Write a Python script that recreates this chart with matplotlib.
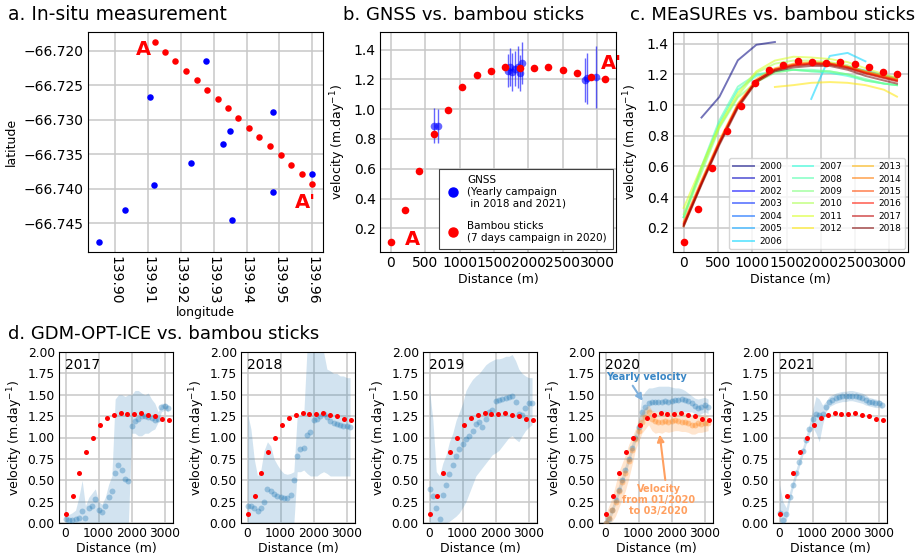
import matplotlib
matplotlib.use('Agg')
import matplotlib.pyplot as plt
from matplotlib.lines import Line2D
from matplotlib.ticker import FuncFormatter
import numpy as np

plt.rcParams['font.family'] = ['DejaVu Sans']

# ---------------- data ----------------
# panel a: positions
bam_lon = [139.9121, 139.9151, 139.9182, 139.9216, 139.9248, 139.9279, 139.9312, 139.9343,
           139.9375, 139.9407, 139.9439, 139.9472, 139.9504, 139.9536, 139.9568, 139.9599]
bam_lat = [-66.7187, -66.7201, -66.7214, -66.7229, -66.7242, -66.7256, -66.7270, -66.7283,
           -66.7297, -66.7311, -66.7325, -66.7338, -66.7351, -66.7365, -66.7379, -66.7393]
gnss_lon = [139.8950, 139.9031, 139.9106, 139.9117, 139.9231, 139.9275, 139.9329, 139.9349,
            139.9355, 139.9480, 139.9481, 139.9600]
gnss_lat = [-66.7477, -66.7431, -66.7267, -66.7395, -66.7363, -66.7214, -66.7335, -66.7316,
            -66.7445, -66.7289, -66.7404, -66.7378]
lon_ticks = [139.90, 139.91, 139.92, 139.93, 139.94, 139.95, 139.96]
lat_ticks = [-66.745, -66.740, -66.735, -66.730, -66.725, -66.720]

# bambou sticks velocity along profile
bam_d = [0, 210, 415, 625, 830, 1040, 1250, 1455, 1665, 1870, 2080, 2285, 2495, 2700, 2910, 3115]
bam_v = [0.108, 0.321, 0.587, 0.832, 0.993, 1.147, 1.228, 1.259, 1.286, 1.279, 1.277, 1.282,
         1.266, 1.246, 1.215, 1.203]

# GNSS
gnss_d = [629, 687, 1704, 1738, 1767, 1801, 1849, 1878, 1912, 2822, 2851, 2986]
gnss_v = [0.890, 0.886, 1.259, 1.284, 1.250, 1.273, 1.284, 1.244, 1.311, 1.195, 1.206, 1.217]
gnss_err = [0.12, 0.115, 0.11, 0.13, 0.13, 0.12, 0.14, 0.12, 0.14, 0.15, 0.17, 0.21]

# panel c: MEaSUREs
meas_d = [0, 260, 520, 790, 1060, 1330, 1600, 1860, 2130, 2390, 2650, 2920, 3110]
N = None
meas_years = list(range(2000, 2019))
meas_v = {
    2000: [N, 0.919, 1.053, 1.292, 1.393, 1.411, N, N, N, N, N, N, N],
    2001: [N] * 13,
    2002: [N] * 13,
    2003: [N] * 13,
    2004: [N, N, N, N, N, N, N, N, N, 1.245, 1.22, 1.19, 1.17],
    2005: [N, N, N, N, N, N, N, 1.27, 1.27, 1.25, 1.225, 1.195, 1.175],
    2006: [N, N, N, N, N, N, N, 1.04, 1.32, 1.34, 1.285, N, N],
    2007: [0.27, 0.59, 0.88, 1.10, 1.19, 1.22, 1.23, 1.22, 1.21, 1.19, 1.16, 1.14, 1.13],
    2008: [0.27, 0.60, 0.90, 1.12, 1.20, 1.22, 1.23, 1.23, 1.22, 1.20, 1.17, 1.14, 1.13],
    2009: [0.27, 0.56, 0.85, 1.05, 1.15, 1.21, 1.23, 1.22, 1.22, 1.20, 1.16, 1.14, 1.13],
    2010: [0.29, 0.58, 0.86, 1.06, 1.21, 1.27, 1.29, 1.29, 1.28, 1.26, 1.22, 1.19, 1.17],
    2011: [0.33, 0.60, 0.87, 1.08, 1.22, 1.29, 1.315, 1.31, 1.30, 1.28, 1.24, 1.20, 1.18],
    2012: [N, N, N, N, N, 1.118, 1.13, 1.145, 1.15, 1.145, 1.13, 1.10, 1.055],
    2013: [0.24, 0.51, 0.77, 1.01, 1.17, 1.24, 1.27, 1.28, 1.275, 1.25, 1.22, 1.19, 1.17],
    2014: [0.21, 0.49, 0.75, 0.99, 1.15, 1.225, 1.26, 1.27, 1.265, 1.245, 1.21, 1.18, 1.16],
    2015: [0.22, 0.49, 0.76, 1.00, 1.16, 1.235, 1.265, 1.275, 1.27, 1.25, 1.215, 1.185, 1.165],
    2016: [0.23, 0.50, 0.76, 1.00, 1.16, 1.23, 1.26, 1.27, 1.27, 1.245, 1.21, 1.18, 1.16],
    2017: [0.22, 0.49, 0.75, 0.99, 1.16, 1.23, 1.255, 1.265, 1.263, 1.24, 1.205, 1.175, 1.155],
    2018: [0.21, 0.48, 0.74, 0.98, 1.15, 1.22, 1.245, 1.255, 1.255, 1.23, 1.19, 1.16, 1.14],
}

# panel d: GDM-OPT-ICE
gdm_d = [0, 100, 200, 300, 400, 500, 600, 700, 800, 900, 1000, 1100, 1200, 1300, 1400, 1500,
         1600, 1700, 1800, 1900, 2000, 2100, 2200, 2300, 2400, 2500, 2600, 2700, 2800, 2900,
         3000, 3100]
gdm_v = {
    2017: [0.05, 0.04, 0.04, 0.05, 0.06, 0.14, 0.06, 0.17, 0.20, 0.28, 0.15, 0.13, 0.20, 0.30,
           0.38, 0.58, 0.68, 0.62, 0.52, 0.49, 1.13, 1.19, 1.22, 1.25, 1.25, 1.24, 1.23, 1.21,
           1.22, 1.36, 1.37, 1.35],
    2018: [0.20, 0.20, 0.18, 0.14, 0.17, 0.25, 0.40, 0.37, 0.34, 0.32, 0.30, 0.29, 0.29, 0.33,
           0.50, 0.78, 0.87, 0.88, 1.03, 1.07, 1.21, 1.22, 1.25, 1.28, 1.24, 1.19, 1.17, 1.16,
           1.15, 1.14, 1.13, 1.12],
    2019: [0.40, 0.32, 0.18, 0.05, 0.33, 0.45, 0.57, 0.68, 0.78, 0.87, 0.92, 0.98, 1.02, 1.08,
           1.16, 1.18, 1.12, 1.22, 1.30, 1.32, 1.43, 1.44, 1.45, 1.46, 1.47, 1.49, 1.42, 1.28,
           1.26, 1.35, 1.40, 1.40],
    2020: [0.00, 0.05, 0.15, 0.27, 0.39, 0.50, 0.62, 0.75, 0.88, 1.00, 1.12, 1.30, 1.36, 1.40,
           1.42, 1.42, 1.42, 1.42, 1.43, 1.42, 1.43, 1.44, 1.44, 1.45, 1.44, 1.43, 1.40, 1.37,
           1.35, 1.36, 1.38, 1.36],
    2021: [0.12, 0.04, 0.10, 0.30, 0.45, 0.58, 0.71, 0.84, 0.97, 1.10, 1.22, 1.27, 1.26, 1.28,
           1.36, 1.42, 1.44, 1.46, 1.47, 1.48, 1.48, 1.49, 1.49, 1.48, 1.47, 1.46, 1.44, 1.42,
           1.41, 1.40, 1.40, 1.38],
}
gdm_lo = {
    2017: [0.0] * 20 + [1.05, 1.05, 1.02, 1.02, 1.05, 1.05, 1.08, 1.10, 1.18, 1.30, 1.32, 1.30],
    2018: [0.0] * 15 + [0.60, 0.60, 0.62, 0.58, 0.55, 0.55, 0.55, 0.58, 0.60, 0.58, 0.55, 0.55,
                        0.55, 0.55, 0.55, 0.55, 0.55],
    2019: [0.0, 0.0, 0.0, 0.0, 0.0, 0.0, 0.02, 0.05, 0.08, 0.12, 0.18, 0.25, 0.35, 0.45, 0.55,
           0.60, 0.65, 0.70, 0.75, 0.80, 0.82, 0.85, 0.90, 0.95, 1.00, 1.02, 0.98, 0.95, 1.02,
           1.08, 1.12, 1.15],
    2020: [0.0, 0.0, 0.10, 0.22, 0.33, 0.44, 0.56, 0.70, 0.82, 0.94, 1.04, 1.15, 1.25, 1.30,
           1.30, 1.30, 1.30, 1.30, 1.30, 1.30, 1.30, 1.30, 1.30, 1.30, 1.30, 1.30, 1.30, 1.28,
           1.26, 1.28, 1.30, 1.28],
    2021: [0.00, 0.00, 0.02, 0.24, 0.40, 0.53, 0.66, 0.79, 0.92, 1.04, 1.12, 1.05, 0.95, 1.15,
           1.30, 1.36, 1.38, 1.40, 1.41, 1.42, 1.42, 1.43, 1.43, 1.42, 1.41, 1.40, 1.38, 1.37,
           1.36, 1.35, 1.35, 1.34],
}
gdm_hi = {
    2017: [0.12, 0.10, 0.12, 0.15, 0.30, 0.50, 0.20, 0.30, 0.35, 0.40, 0.25, 0.22, 0.30, 0.45,
           0.55, 1.45, 1.50, 1.50, 1.48, 1.50, 1.50, 1.55, 1.55, 1.52, 1.50, 1.52, 1.45, 1.40,
           1.30, 1.40, 1.40, 1.38],
    2018: [1.28, 1.10, 0.75, 0.55, 0.62, 0.85, 0.95, 0.90, 0.75, 0.68, 0.62, 0.58, 0.57, 0.58,
           0.60, 1.25, 1.26, 1.28, 2.05, 2.05, 2.05, 2.05, 2.05, 2.00, 1.80, 1.78, 1.75, 1.75,
           1.72, 1.72, 1.70, 1.70],
    2019: [1.55, 1.20, 0.60, 0.55, 0.70, 0.80, 0.95, 1.05, 1.20, 1.30, 1.40, 1.55, 1.62, 1.68,
           1.72, 1.75, 1.80, 1.85, 1.88, 1.90, 1.92, 1.92, 1.93, 1.95, 1.95, 1.97, 1.90, 1.80,
           1.75, 1.72, 1.70, 1.70],
    2020: [0.05, 0.10, 0.20, 0.32, 0.45, 0.56, 0.68, 0.80, 0.94, 1.06, 1.20, 1.48, 1.54, 1.58,
           1.58, 1.59, 1.60, 1.60, 1.60, 1.60, 1.59, 1.58, 1.58, 1.57, 1.55, 1.52, 1.49, 1.46,
           1.45, 1.46, 1.47, 1.45],
    2021: [0.45, 0.25, 0.18, 0.36, 0.50, 0.63, 0.76, 0.89, 1.02, 1.16, 1.32, 1.48, 1.45, 1.38,
           1.42, 1.48, 1.50, 1.52, 1.53, 1.54, 1.54, 1.55, 1.55, 1.54, 1.53, 1.52, 1.50, 1.47,
           1.46, 1.45, 1.44, 1.42],
}
# 2020 Jan-Mar velocity
q1_v = [0.00, 0.06, 0.15, 0.25, 0.38, 0.48, 0.58, 0.72, 0.85, 0.98, 1.08, 1.18, 1.24, 1.30,
        1.22, 1.19, 1.18, 1.18, 1.19, 1.18, 1.19, 1.20, 1.19, 1.18, 1.18, 1.17, 1.15, 1.15,
        1.17, 1.16, 1.17, 1.17]
q1_lo = [0.0, 0.0, 0.02, 0.08, 0.18, 0.28, 0.38, 0.52, 0.68, 0.85, 0.95, 1.05, 1.10, 1.15,
         1.08, 1.05, 1.06, 1.05, 1.07, 1.06, 1.07, 1.08, 1.08, 1.07, 1.07, 1.06, 1.04, 1.04,
         1.06, 1.06, 1.07, 1.08]
q1_hi = [0.10, 0.20, 0.30, 0.45, 0.60, 0.70, 0.80, 0.92, 1.00, 1.10, 1.22, 1.30, 1.35, 1.38,
         1.32, 1.30, 1.30, 1.30, 1.31, 1.30, 1.30, 1.31, 1.30, 1.30, 1.29, 1.28, 1.25, 1.25,
         1.27, 1.26, 1.26, 1.26]
gdm_years = [2017, 2018, 2019, 2020, 2021]

# ---------------- figure ----------------
W, H = 917, 557
fig = plt.figure(figsize=(W / 100, H / 100), dpi=100)


def box(l, r, t, b):
    return [l / W, 1 - b / H, (r - l) / W, (b - t) / H]


GRID = dict(color='#c8c8c8', lw=1.1)
TICK = 10
LAB = 9
vel_label = 'velocity (m.day$^{-1}$)'


def style(ax, size=TICK):
    ax.grid(True, **GRID)
    ax.set_axisbelow(True)
    ax.tick_params(labelsize=size, direction='in', length=0, pad=3)


fig.text(8 / W, 1 - 15 / H, 'a. In-situ measurement', fontsize=13.5, va='center', ha='left')
fig.text(343 / W, 1 - 15 / H, 'b. GNSS vs. bambou sticks', fontsize=13, va='center', ha='left')
fig.text(630 / W, 1 - 15 / H, 'c. MEaSUREs vs. bambou sticks', fontsize=13, va='center', ha='left')
fig.text(8 / W, 1 - 334 / H, 'd. GDM-OPT-ICE vs. bambou sticks', fontsize=13, va='center', ha='left')

# ---- a ----
ax = fig.add_axes(box(88, 323, 32, 252))
ax.scatter(gnss_lon, gnss_lat, s=22, color='blue', zorder=3, linewidths=0)
ax.scatter(bam_lon, bam_lat, s=22, color='red', zorder=3, linewidths=0)
style(ax)
ax.set_xticks(lon_ticks)
ax.set_xticklabels(['%.2f' % v for v in lon_ticks], rotation=-90)
ax.set_yticks(lat_ticks)
ax.yaxis.set_major_formatter(FuncFormatter(lambda v, p: ('%.3f' % v).replace('-', '\u2212')))
ax.set_xlabel('longitude', fontsize=LAB, labelpad=1)
ax.set_ylabel('latitude', fontsize=LAB)
ax.text(139.9085, -66.71975, 'A', color='red', fontsize=14, fontweight='bold', ha='center', va='center')
ax.text(139.9580, -66.7419, "A'", color='red', fontsize=14, fontweight='bold', ha='center', va='center')

# ---- b ----
ax = fig.add_axes(box(380, 616, 32, 252))
ax.errorbar(gnss_d, gnss_v, yerr=gnss_err, fmt='o', color='blue', alpha=0.6, ms=5.5,
            mec='none', elinewidth=1.0, zorder=3)
ax.scatter(bam_d, bam_v, s=30, color='red', zorder=4, linewidths=0)
style(ax)
ax.set_xticks([0, 500, 1000, 1500, 2000, 2500, 3000])
ax.set_yticks([0.2, 0.4, 0.6, 0.8, 1.0, 1.2, 1.4])
ax.set_xlabel('Distance (m)', fontsize=LAB, labelpad=2)
ax.set_ylabel(vel_label, fontsize=LAB)
ax.text(315, 0.126, 'A', color='red', fontsize=14, fontweight='bold', ha='center', va='center')
ax.text(3200, 1.308, "A'", color='red', fontsize=14, fontweight='bold', ha='center', va='center',
        clip_on=False)
handles = [Line2D([], [], ls='none', marker='o', color='blue', ms=6.5),
           Line2D([], [], ls='none', marker='o', color='red', ms=6.5)]
leg = ax.legend(handles, ['GNSS\n(Yearly campaign\n in 2018 and 2021)',
                          'Bambou sticks\n(7 days campaign in 2020)'],
                loc='lower right', fontsize=7.5, fancybox=False, edgecolor='0.25',
                framealpha=1, borderaxespad=0.3, labelspacing=1.2, handletextpad=0.6,
                handlelength=1.5, borderpad=0.6)
leg.get_frame().set_linewidth(0.8)

# ---- c ----
ax = fig.add_axes(box(673, 908, 32, 252))
cmap = plt.get_cmap('jet')
for i, yr in enumerate(meas_years):
    vals = np.array([np.nan if v is None else v for v in meas_v[yr]], dtype=float)
    ax.plot(meas_d, vals, color=cmap(i / 18), alpha=0.55, lw=1.4, label=str(yr))
ax.scatter(bam_d, bam_v, s=30, color='red', zorder=4, linewidths=0)
style(ax)
ax.set_xticks([0, 500, 1000, 1500, 2000, 2500, 3000])
ax.set_yticks([0.2, 0.4, 0.6, 0.8, 1.0, 1.2, 1.4])
ax.set_xlabel('Distance (m)', fontsize=LAB, labelpad=2)
ax.set_ylabel(vel_label, fontsize=LAB)
ax.legend(ncol=3, loc='lower right', fontsize=6.5, borderaxespad=0.3, labelspacing=0.38,
          columnspacing=1.2, handlelength=2.3, handletextpad=0.6)

# ---- d ----
d_lefts = [59, 241, 423, 599, 773]
BLUE = '#1f77b4'
ORANGE = '#ff7f0e'
for yr, l in zip(gdm_years, d_lefts):
    ax = fig.add_axes(box(l, l + 114, 352, 523))
    ax.fill_between(gdm_d, gdm_lo[yr], gdm_hi[yr], color=BLUE, alpha=0.2, lw=0)
    ax.scatter(gdm_d, gdm_v[yr], s=18, color=BLUE, alpha=0.35, linewidths=0, zorder=3)
    if yr == 2020:
        ax.fill_between(gdm_d, q1_lo, q1_hi, color=ORANGE, alpha=0.2, lw=0)
        ax.scatter(gdm_d, q1_v, s=18, color=ORANGE, alpha=0.35, linewidths=0, zorder=3)
    ax.scatter(bam_d, bam_v, s=13, color='red', zorder=4, linewidths=0)
    ax.set_ylim(0, 2.0)
    ax.set_xlim(-200, 3250)
    ax.set_xticks([0, 1000, 2000, 3000])
    ax.set_yticks([0, 0.25, 0.5, 0.75, 1.0, 1.25, 1.5, 1.75, 2.0])
    ax.yaxis.set_major_formatter(FuncFormatter(lambda v, p: '%.2f' % v))
    style(ax, 8.8)
    ax.set_xlabel('Distance (m)', fontsize=LAB, labelpad=1)
    ax.set_ylabel(vel_label, fontsize=LAB, labelpad=2)
    ax.text(0.05, 0.965, str(yr), transform=ax.transAxes, va='top', ha='left', fontsize=10)
    if yr == 2020:
        ax.annotate('Yearly velocity', xy=(1146, 1.415), xytext=(1230, 1.71),
                    ha='center', va='center', fontsize=7, fontweight='bold', color='#3a87c6',
                    arrowprops=dict(arrowstyle='-|>', color='#7fb0dc', lw=1.5,
                                    relpos=(0.3, 0.0), shrinkA=1, shrinkB=1, mutation_scale=10))
        ax.annotate('Velocity\nfrom 01/2020\nto 03/2020', xy=(1633, 1.05), xytext=(1600, 0.27),
                    ha='center', va='center', fontsize=7, fontweight='bold', color='#ffa060',
                    linespacing=1.1,
                    arrowprops=dict(arrowstyle='-|>', color='#ffa060', lw=1.5,
                                    relpos=(0.6, 1.0), shrinkA=1, shrinkB=1, mutation_scale=10))

fig.savefig('out.png', dpi=100)
